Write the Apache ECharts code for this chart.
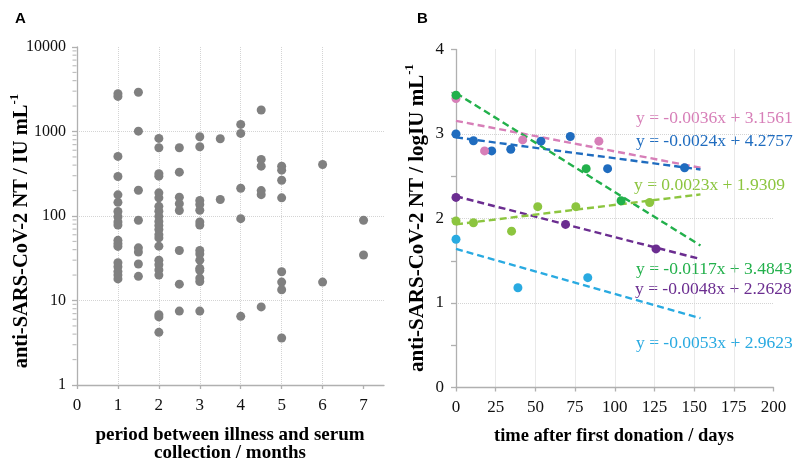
<!DOCTYPE html>
<html><head><meta charset="utf-8">
<script src="https://cdn.jsdelivr.net/npm/echarts@6/dist/echarts.min.js"></script>
<style>html,body{margin:0;padding:0;background:#fff}#c{width:795px;height:463px}</style>
</head><body><div id="c"></div>
<script>
// ---------- Panel A data ----------
const monthsA = [1, 1.5, 2, 2.5, 3, 3.5, 4, 4.5, 5, 6, 7];
const titersA = [
  [2800, 2600, 507, 293, 178, 145, 113, 98, 85, 78, 51.5, 47, 43.7, 28, 25, 22, 20, 18],
  [2910, 1010, 202, 89, 42, 37.5, 27, 19.3],
  [828, 642, 316, 296, 188, 164, 130, 114, 99, 86, 77, 69, 60, 55, 44, 30, 26.5, 23, 20, 6.8, 6.4, 4.2],
  [642, 330, 167, 140, 116, 39, 15.6, 7.5],
  [867, 660, 153, 137, 117, 85, 78, 39, 35.5, 30, 24, 22.7, 18.4, 16.8, 7.5],
  [820, 157],
  [1214, 949, 213, 93, 6.5],
  [1795, 467, 389, 200, 179, 8.4],
  [389, 349, 265, 164, 21.9, 16.5, 13.4, 3.6],
  [407, 16.5],
  [89, 34.5]
];
const xTicksA = [0, 1, 2, 3, 4, 5, 6, 7];
const minorTicksA = [2,3,4,5,6,7,8,9, 20,30,40,50,60,70,80,90, 200,300,400,500,600,700,800,900, 2000,3000,4000,5000,6000,7000,8000,9000];

// ---------- Panel B data ----------
const pinkPts   = [[0, 3.42], [18, 2.80], [42, 2.93], [90, 2.915]];
const bluePts   = [[0, 3.00], [11, 2.92], [22.5, 2.80], [34.5, 2.82], [53.5, 2.915], [72, 2.97], [95.5, 2.59], [144, 2.60]];
const greenPts  = [[0, 3.46], [82, 2.59], [104, 2.21]];
const purplePts = [[0, 2.25], [69, 1.93], [126, 1.64]];
const limePts   = [[0, 1.97], [11, 1.95], [35, 1.85], [51.5, 2.14], [75.5, 2.14], [122, 2.19]];
const skyPts    = [[0, 1.755], [39, 1.18], [83, 1.30]];

const pinkTrend   = [[0, 3.156], [154, 2.60]];
const blueTrend   = [[0, 2.96], [154, 2.58]];
const greenTrend  = [[0, 3.484], [154, 1.68]];
const purpleTrend = [[0, 2.263], [154, 1.52]];
const limeTrend   = [[0, 1.931], [154, 2.285]];
const skyTrend    = [[0, 1.64], [154, 0.82]];

const eqTexts = [
  'y = -0.0036x + 3.1561',
  'y = -0.0024x + 4.2757',
  'y = 0.0023x + 1.9309',
  'y = -0.0117x + 3.4843',
  'y = -0.0048x + 2.2628',
  'y = -0.0053x + 2.9623'
];

const COL = { pink: '#d77fb8', blue: '#1f6cbf', green: '#22b04b', purple: '#6b2d90', lime: '#8cc53f', sky: '#29aae1', gray: '#808080' };
const SERIF = '"Liberation Serif", "Times New Roman", serif';
const SANS = '"Liberation Sans", Arial, sans-serif';

const scatterA = [];
monthsA.forEach((m, i) => titersA[i].forEach(v => scatterA.push([m, v])));

const axisLineStyle = { color: '#b0b0b0', width: 1.3 };
const gridLine = { show: true, lineStyle: { color: '#d4d4d4', type: [1, 1], width: 1 }, showMinLine: false, showMaxLine: false };
const tickLabel = { color: '#111', fontFamily: SERIF, fontSize: 17 };

const chart = echarts.init(document.getElementById('c'), null, { renderer: 'canvas' });

function scatterB(data, color) {
  return { type: 'scatter', xAxisIndex: 1, yAxisIndex: 1, data, symbolSize: 9, itemStyle: { color, opacity: 1 }, z: 3 };
}
function trendB(data, color) {
  return { type: 'line', xAxisIndex: 1, yAxisIndex: 1, data, symbol: 'none', lineStyle: { color, width: 2.4, type: [7, 4] }, z: 2, silent: true };
}
function yTitle(txt, x, y, size) {
  return { type: 'text', x, y, rotation: Math.PI / 2,
    style: { text: '{m|' + txt + '}{s|-1}', align: 'center', verticalAlign: 'middle',
      rich: { m: { font: 'bold ' + size + 'px ' + SERIF, fill: '#000', lineHeight: size + 4, verticalAlign: 'bottom' },
              s: { font: 'bold ' + Math.round(size * 0.62) + 'px ' + SERIF, fill: '#000', lineHeight: size + 4, verticalAlign: 'top' } } } };
}

const option = {
  animation: false,
  backgroundColor: '#fff',
  grid: [
    { left: 77, top: 47, width: 307, height: 338 },
    { left: 456, top: 49.5, width: 317.5, height: 338 }
  ],
  xAxis: [
    {
      gridIndex: 0, type: 'value', min: 0, max: 7.5, interval: 1,
      axisLine: { show: true, onZero: false, lineStyle: axisLineStyle },
      axisTick: { show: true, length: 4, lineStyle: axisLineStyle, customValues: xTicksA },
      axisLabel: Object.assign({ margin: 12, customValues: xTicksA, formatter: v => String(v) }, tickLabel),
      splitLine: gridLine
    },
    {
      gridIndex: 1, type: 'value', min: 0, max: 200, interval: 25,
      axisLine: { show: true, onZero: false, lineStyle: axisLineStyle },
      axisTick: { show: true, length: 4, lineStyle: axisLineStyle },
      axisLabel: Object.assign({ margin: 12 }, tickLabel),
      splitLine: gridLine
    }
  ],
  yAxis: [
    {
      gridIndex: 0, type: 'log', logBase: 10, min: 1, max: 10000,
      axisLine: { show: true, onZero: false, lineStyle: axisLineStyle },
      axisTick: { show: true, length: 5, lineStyle: axisLineStyle },
      axisLabel: Object.assign({}, tickLabel, { margin: 11, fontSize: 16, formatter: v => String(Math.round(v)) }),
      splitLine: gridLine
    },
    {
      gridIndex: 1, type: 'value', min: 0, max: 4, interval: 1,
      axisLine: { show: true, onZero: false, lineStyle: axisLineStyle },
      axisTick: { show: true, length: 5, lineStyle: axisLineStyle },
      minorTick: { show: true, splitNumber: 2, length: 5, lineStyle: axisLineStyle },
      axisLabel: Object.assign({ margin: 12 }, tickLabel),
      splitLine: gridLine
    }
  ],
  series: [
    { type: 'scatter', xAxisIndex: 0, yAxisIndex: 0, data: scatterA, symbolSize: 9, itemStyle: { color: COL.gray, opacity: 1 } },
    { type: 'scatter', xAxisIndex: 0, yAxisIndex: 0, data: minorTicksA.map(v => [0, v]), symbol: 'rect', symbolSize: [4, 1.2], symbolOffset: [-2.5, 0], itemStyle: { color: '#b0b0b0' }, silent: true, clip: false },
    trendB(pinkTrend, COL.pink), trendB(blueTrend, COL.blue), trendB(greenTrend, COL.green),
    trendB(purpleTrend, COL.purple), trendB(limeTrend, COL.lime), trendB(skyTrend, COL.sky),
    scatterB(bluePts, COL.blue), scatterB(pinkPts, COL.pink), scatterB(greenPts, COL.green),
    scatterB(purplePts, COL.purple), scatterB(limePts, COL.lime), scatterB(skyPts, COL.sky)
  ],
  graphic: [
    { type: 'text', left: 15, top: 11, style: { text: 'A', font: 'bold 15px ' + SANS, fill: '#000' } },
    { type: 'text', left: 417, top: 11, style: { text: 'B', font: 'bold 15px ' + SANS, fill: '#000' } },
    yTitle('anti-SARS-CoV-2 NT / IU mL', 20, 231, 20.5),
    yTitle('anti-SARS-CoV-2 NT / logIU mL', 416, 218, 21),
    { type: 'text', x: 230, y: 435, style: { text: 'period between illness and serum', font: 'bold 19px ' + SERIF, fill: '#000', align: 'center', verticalAlign: 'middle' } },
    { type: 'text', x: 230, y: 453, style: { text: 'collection / months', font: 'bold 19px ' + SERIF, fill: '#000', align: 'center', verticalAlign: 'middle' } },
    { type: 'text', x: 614, y: 436, style: { text: 'time after first donation / days', font: 'bold 18.5px ' + SERIF, fill: '#000', align: 'center', verticalAlign: 'middle' } },
    { type: 'text', x: 636, y: 118, style: { text: eqTexts[0], font: '17.5px ' + SERIF, fill: COL.pink, verticalAlign: 'middle' } },
    { type: 'text', x: 636, y: 141, style: { text: eqTexts[1], font: '17.5px ' + SERIF, fill: COL.blue, verticalAlign: 'middle' } },
    { type: 'text', x: 634, y: 185, style: { text: eqTexts[2], font: '17.5px ' + SERIF, fill: COL.lime, verticalAlign: 'middle' } },
    { type: 'text', x: 636, y: 269, style: { text: eqTexts[3], font: '17.5px ' + SERIF, fill: COL.green, verticalAlign: 'middle' } },
    { type: 'text', x: 635, y: 289, style: { text: eqTexts[4], font: '17.5px ' + SERIF, fill: COL.purple, verticalAlign: 'middle' } },
    { type: 'text', x: 636, y: 343, style: { text: eqTexts[5], font: '17.5px ' + SERIF, fill: COL.sky, verticalAlign: 'middle' } }
  ]
};
chart.setOption(option);
</script></body></html>
